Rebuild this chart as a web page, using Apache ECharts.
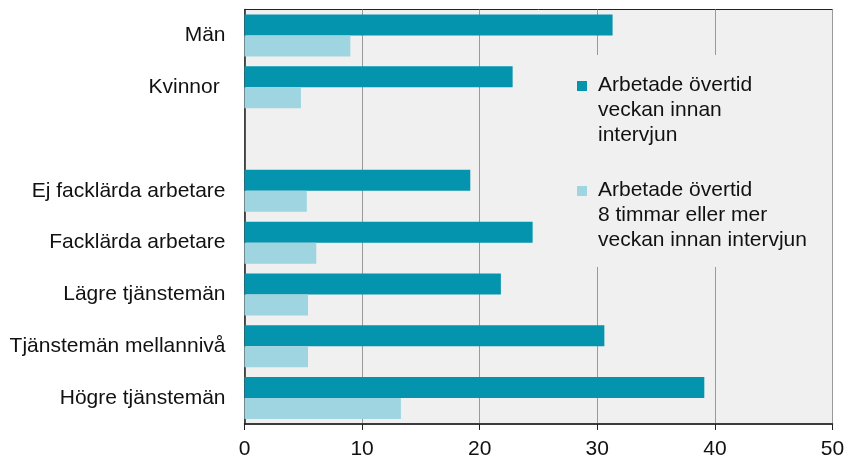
<!DOCTYPE html>
<html>
<head>
<meta charset="utf-8">
<script src="https://cdn.jsdelivr.net/npm/echarts@6/dist/echarts.min.js"></script>
<style>
  html, body { margin: 0; padding: 0; background: #fff; }
  #chart { width: 851px; height: 460px; }
</style>
</head>
<body>
<div id="chart"></div>
<script>
// Övertid veckan innan intervjun, andel (%) per grupp.

const categories = [
  'Män', 'Kvinnor ', '',
  'Ej facklärda arbetare', 'Facklärda arbetare', 'Lägre tjänstemän',
  'Tjänstemän mellannivå', 'Högre tjänstemän',
];
const overtid = [31.3, 22.8, null, 19.2, 24.5, 21.8, 30.6, 39.1];
const overtid8 = [9.0, 4.8, null, 5.3, 6.1, 5.4, 5.4, 13.3];
const seriesNames = [
  'Arbetade övertid\nveckan innan\nintervjun',
  'Arbetade övertid\n8 timmar eller mer\nveckan innan intervjun',
];
const xTicks = { min: 0, max: 50, interval: 10 };

const DARK = '#0494ae';
const LIGHT = '#9fd5e0';
const FONT = '"Liberation Sans", Arial, sans-serif';

const chart = echarts.init(document.getElementById('chart'), null, { renderer: 'canvas' });

// legend drawn by hand: icon sits on the first text line, not centred on the block
function legendItem(y, color, text) {
  return [
    { type: 'rect', z: 6, shape: { x: 577, y: y + 8, width: 10, height: 10 }, style: { fill: color } },
    {
      type: 'text', z: 6, x: 598, y: y,
      style: { text, font: '21px ' + FONT, fill: '#111', lineHeight: 24.8, verticalAlign: 'top' },
    },
  ];
}

chart.setOption({
  animation: false,
  textStyle: { fontFamily: FONT },
  grid: {
    left: 244.5, right: 18.5, top: 9.5, bottom: 36,
    show: true, backgroundColor: '#f0f0f0', borderColor: '#222', borderWidth: 1,
  },
  xAxis: {
    type: 'value', ...xTicks,
    axisLine: { show: true, lineStyle: { color: '#222', width: 1.5 } },
    axisTick: { show: true, length: 6, lineStyle: { color: '#222' } },
    axisLabel: { color: '#111', fontSize: 21, margin: 15 },
    splitLine: { lineStyle: { color: '#9a9a9a', width: 1 } },
  },
  yAxis: {
    type: 'category', data: categories, inverse: true,
    axisLine: { show: true, lineStyle: { color: '#222', width: 1.5 } },
    axisTick: { show: false },
    axisLabel: { color: '#111', fontSize: 21, margin: 19 },
  },
  series: [
    { type: 'bar', name: seriesNames[0], data: overtid, barWidth: 21, barGap: '0%',
      itemStyle: { color: DARK }, z: 3 },
    { type: 'bar', name: seriesNames[1], data: overtid8, barWidth: 21, barGap: '0%',
      itemStyle: { color: LIGHT }, z: 3 },
  ],
  graphic: [
    { type: 'rect', z: 5, shape: { x: 568, y: 55, width: 254, height: 212 },
      style: { fill: '#f0f0f0' } },
    ...legendItem(73, DARK, seriesNames[0]),
    ...legendItem(178, LIGHT, seriesNames[1]),
  ],
});
</script>
</body>
</html>
